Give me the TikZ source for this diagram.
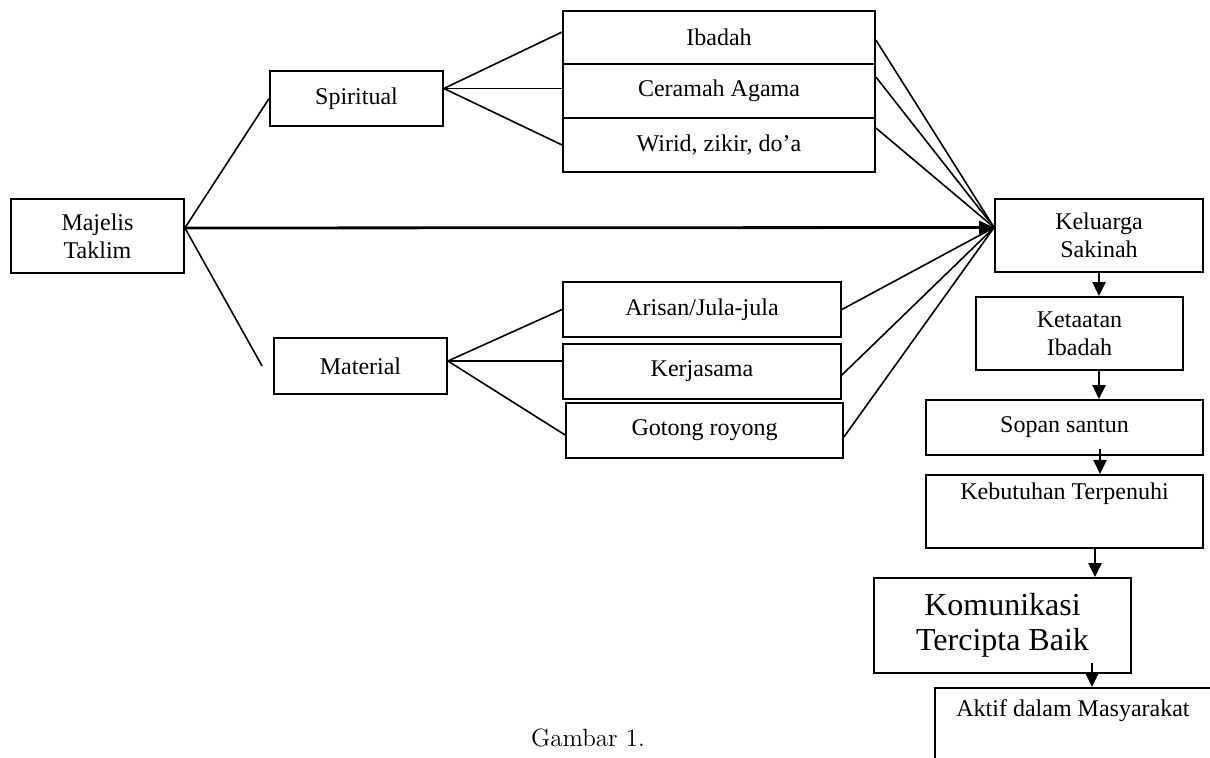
\documentclass[tikz,border=0pt]{standalone}
\usepackage{fontspec}
\newfontfamily\tnr{Liberation Serif}
\usetikzlibrary{arrows.meta}

\tikzset{
  box/.style={draw, line width=0.9pt, font={\tnr\fontsize{12}{13.8}\selectfont}, align=center, inner sep=2pt},
  topbox/.style={box, anchor=north, text height=10.5pt},
  link/.style={line width=0.8pt},
  arr/.style={line width=1.1pt, -{Triangle[length=7pt,width=6.5pt]}},
  mainarr/.style={line width=1.4pt, -{Triangle[length=7.5pt,width=6.5pt]}},
}

\begin{document}
\begin{tikzpicture}[x=0.5pt,y=-0.5pt]
  \useasboundingbox (0,0) rectangle (1210,758);
  \clip (0,0) rectangle (1210,758);
  % left
  \node[box, minimum width=86.5pt, minimum height=37pt] (mt) at (97.5,236) {Majelis\\Taklim};
  \node[box, minimum width=86.5pt, minimum height=27.5pt] (sp) at (356.5,98.5) {Spiritual};
  \node[box, minimum width=86.5pt, minimum height=28pt] (ma) at (360.5,366) {Material};
  % spiritual
  \node[box, minimum width=156pt, minimum height=26.5pt] (ib) at (719,37.5) {Ibadah};
  \node[box, minimum width=156pt, minimum height=27pt] (ca) at (719,91) {Ceramah Agama};
  \node[box, minimum width=156pt, minimum height=27pt] (wz) at (719,145) {Wirid, zikir, do’a};
  % material
  \node[box, minimum width=139pt, minimum height=27.5pt] (ar) at (702,309.5) {Arisan/Jula-jula};
  \node[box, minimum width=139pt, minimum height=27.5pt] (kj) at (702,371.5) {Kerjasama};
  \node[box, minimum width=138.5pt, minimum height=27.5pt] (gr) at (704.5,430.5) {Gotong royong};
  % right column
  \node[box, minimum width=104pt, minimum height=36.5pt] (ks) at (1099,235.5) {Keluarga\\Sakinah};
  \node[box, minimum width=103.5pt, minimum height=36.5pt] (ki) at (1079.5,333.5) {Ketaatan\\Ibadah};
  \node[box, minimum width=138.5pt, minimum height=27.5pt] (ss) at (1064.5,427.5) {Sopan santun};
  \node[topbox, minimum width=138.5pt, text depth=22pt] (kt) at (1064.5,474) {Kebutuhan Terpenuhi};
  \node[box, minimum width=128.5pt, minimum height=47.5pt, font={\tnr\fontsize{16}{17.5}\selectfont}] (km) at (1002.5,625.5) {Komunikasi\\Tercipta Baik};
  \node[topbox, minimum width=138pt, text height=12.5pt, text depth=50pt] (ak) at (1073,687) {Aktif dalam Masyarakat};
  \node (cap) at (588,738) {\fontsize{12.5}{15}\selectfont Gambar 1.};
  %
  \coordinate (mout) at ([yshift=4pt]mt.east);
  \coordinate (kin) at ([yshift=4pt]ks.west);
  \coordinate (sout) at ([yshift=5pt]sp.east);
  \coordinate (matout) at ([yshift=2.5pt]ma.east);
  \draw[link] (mout) -- (sp.west);
  \draw[link] (mout) -- ([xshift=-5.5pt]ma.west);
  \draw[mainarr] (mout) -- (kin);
  \draw[link] (sout) -- ([yshift=2.75pt]ib.west);
  \draw[link] (sout) -- (sout -| ca.west);
  \draw[link] (sout) -- (wz.west);
  \draw[link] (matout) -- (ar.west);
  \draw[link] (matout) -- (matout -| kj.west);
  \draw[link] (matout) -- ([yshift=-2.25pt]gr.west);
  \foreach \n/\s in {ib/-1.25,ca/7,wz/8.5,ar/0,kj/-1.75,gr/-3.25}
    \draw[link] ([yshift=\s pt]\n.east) -- (kin);
  % down the right side
  \draw[arr] (ks.south) -- (ks.south |- ki.north);
  \draw[arr] (ks.south |- ki.south) -- (ks.south |- ss.north);
  \draw[arr] ([xshift=17.75pt,yshift=3.5pt]ss.south) -- ([xshift=17.75pt]kt.north);
  \draw[arr] ([xshift=15.25pt]kt.south) -- ([xshift=46.25pt]km.north);
  \draw[arr] ([xshift=44.75pt,yshift=5.5pt]km.south) -- ([xshift=9.5pt]ak.north);
\end{tikzpicture}
\end{document}
